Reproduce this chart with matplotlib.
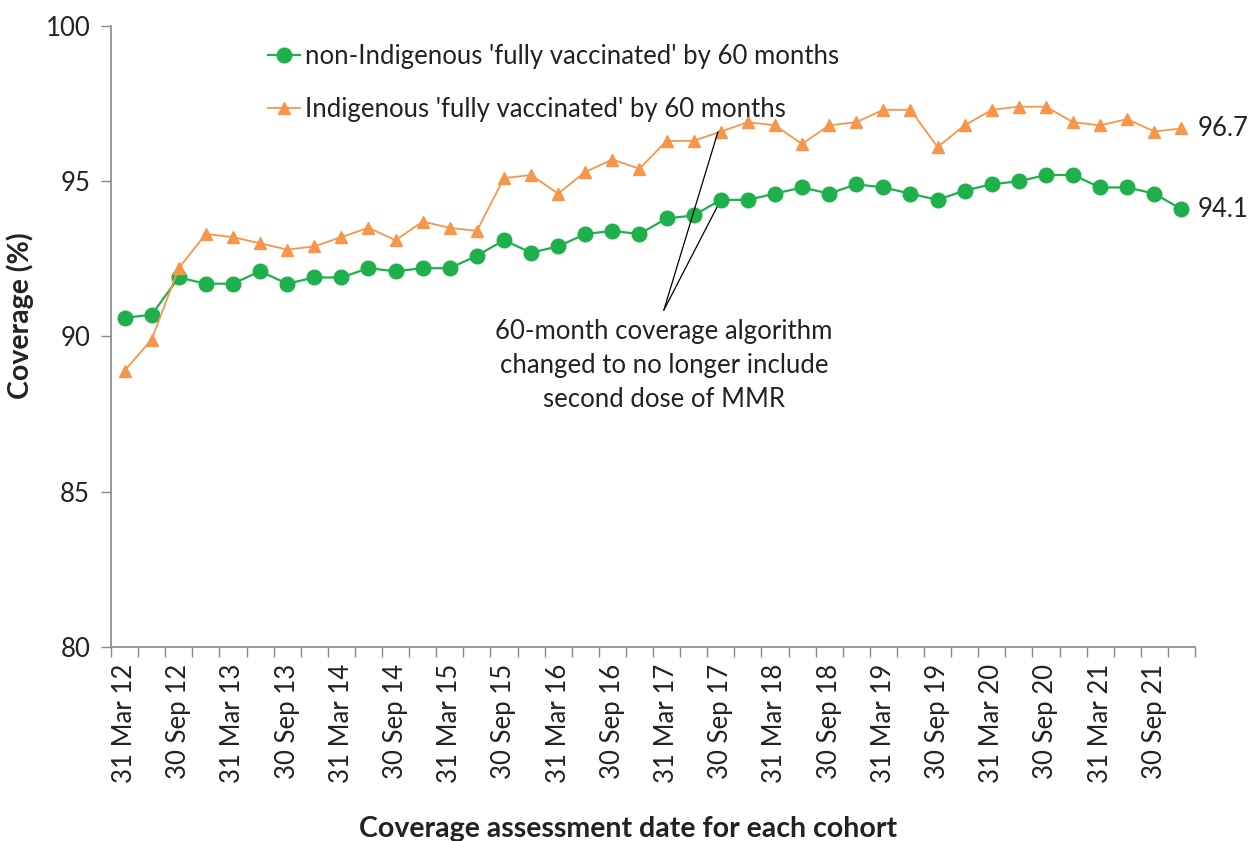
import numpy as np
import matplotlib.pyplot as plt

plt.rcParams['font.family'] = ['Lato', 'DejaVu Sans']

# quarterly assessment dates, 31 Mar 12 .. 31 Dec 21
years = list(range(12, 22))
quarter_days = ['31 Mar', '30 Jun', '30 Sep', '31 Dec']
quarters = ['%s %d' % (q, y) for y in years for q in quarter_days]

non_indigenous = [90.6, 90.7, 91.9, 91.7, 91.7, 92.1, 91.7, 91.9, 91.9, 92.2,
                  92.1, 92.2, 92.2, 92.6, 93.1, 92.7, 92.9, 93.3, 93.4, 93.3,
                  93.8, 93.9, 94.4, 94.4, 94.6, 94.8, 94.6, 94.9, 94.8, 94.6,
                  94.4, 94.7, 94.9, 95.0, 95.2, 95.2, 94.8, 94.8, 94.6, 94.1]
indigenous = [88.9, 89.9, 92.2, 93.3, 93.2, 93.0, 92.8, 92.9, 93.2, 93.5,
              93.1, 93.7, 93.5, 93.4, 95.1, 95.2, 94.6, 95.3, 95.7, 95.4,
              96.3, 96.3, 96.6, 96.9, 96.8, 96.2, 96.8, 96.9, 97.3, 97.3,
              96.1, 96.8, 97.3, 97.4, 97.4, 96.9, 96.8, 97.0, 96.6, 96.7]

green = '#1EB04B'
orange = '#F7964A'
text_col = '#222222'
axis_col = '#888888'
fs = 18.5

fig = plt.figure(figsize=(12.5, 8.41), dpi=100)
ax = fig.add_axes([0.0888, 0.2307, 0.8672, 0.7384])

x = np.arange(len(quarters))
ax.plot(x, non_indigenous, color=green, lw=1.6, marker='o', ms=10.5,
        label="non-Indigenous 'fully vaccinated' by 60 months")
ax.plot(x, indigenous, color=orange, lw=1.3, marker='^', ms=8,
        label="Indigenous 'fully vaccinated' by 60 months")

ax.set_xlim(-0.5, len(quarters) - 0.5)
ax.set_ylim(80, 100)
ax.set_yticks([80, 85, 90, 95, 100])

# category boundaries get tick marks, every second date gets a label
ax.set_xticks(np.arange(len(quarters) + 1) - 0.5, minor=True)
ax.set_xticks(x[::2])
ax.set_xticklabels(quarters[::2], rotation=90)
ax.tick_params(axis='x', which='major', length=0, pad=12)
ax.tick_params(axis='x', which='minor', length=7, color=axis_col, width=1)
ax.tick_params(axis='y', length=7, color=axis_col, width=1, pad=8)
ax.tick_params(labelsize=fs, labelcolor=text_col)

for side in ['top', 'right']:
    ax.spines[side].set_visible(False)
for side in ['left', 'bottom']:
    ax.spines[side].set_color(axis_col)
    ax.spines[side].set_linewidth(1.2)

ax.set_ylabel('Coverage (%)', fontsize=20.5, fontweight='bold', color=text_col)
ax.yaxis.set_label_coords(-0.071, 0.533)
ax.set_xlabel('Coverage assessment date for each cohort', fontsize=20.5,
              fontweight='bold', color=text_col)
ax.xaxis.set_label_coords(0.477, -0.272)

# end-of-series values
ax.text(x[-1] + 0.6, indigenous[-1], '%.1f' % indigenous[-1], fontsize=fs,
        color=text_col, va='center', ha='left')
ax.text(x[-1] + 0.6, non_indigenous[-1], '%.1f' % non_indigenous[-1], fontsize=fs,
        color=text_col, va='center', ha='left')

# note on the algorithm change at 30 Sep 17
change = quarters.index('30 Sep 17')
note_xy = (19.9, 90.85)
ax.text(note_xy[0], note_xy[1] - 0.3,
        '60-month coverage algorithm\nchanged to no longer include\nsecond dose of MMR',
        fontsize=fs, color=text_col, ha='center', va='top', linespacing=1.43)
ax.annotate('', xy=(change - 0.1, indigenous[change]), xytext=note_xy,
            arrowprops=dict(arrowstyle='-', color='black', lw=0.9,
                            shrinkA=0, shrinkB=0))
ax.annotate('', xy=(change, non_indigenous[change]), xytext=note_xy,
            arrowprops=dict(arrowstyle='-', color='black', lw=0.9,
                            shrinkA=0, shrinkB=6))

leg = ax.legend(loc='upper left', bbox_to_anchor=(0.135, 0.988), frameon=False,
                fontsize=fs, labelspacing=1.1, handlelength=1.25,
                handletextpad=0.2, borderaxespad=0)
for t in leg.get_texts():
    t.set_color(text_col)

fig.savefig('out.png', dpi=100)
